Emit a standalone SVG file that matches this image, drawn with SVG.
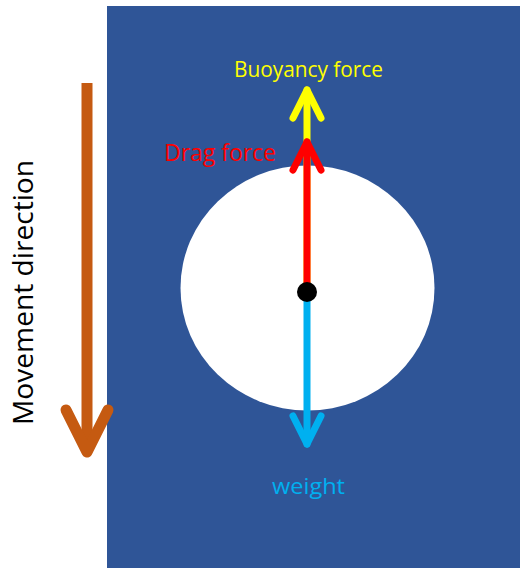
<svg xmlns="http://www.w3.org/2000/svg" width="520" height="570" viewBox="0 0 520 570">
<style>
.arr{fill:none;stroke-linecap:round;stroke-linejoin:round}
.lbl{font-family:"Open Sans","Liberation Sans",sans-serif}
</style>
<rect width="520" height="570" fill="#ffffff"/>
<g id="water"><rect x="107" y="6" width="413" height="562" fill="#2F5597"/></g>
<g id="ball"><ellipse cx="307.5" cy="288" rx="127" ry="122.5" fill="#ffffff"/></g>
<g id="connectors">
<g id="buoyancy-arrow" stroke="#FFFF00" stroke-width="7" class="arr"><path d="M307 290V90"/><path d="M293 118L307 90L321 118"/></g>
<g id="drag-arrow" stroke="#FF0000" stroke-width="7" class="arr"><path d="M307 290V142"/><path d="M293 170L307 142L321 170"/></g>
<g id="weight-arrow" stroke="#00B0F0" stroke-width="7" class="arr"><path d="M307 292V444"/><path d="M293 416L307 444L321 416"/></g>
<g id="movement-arrow" stroke="#C55A11" stroke-width="11" class="arr"><path d="M87 83V452" stroke-linecap="butt"/><path d="M66 410L87 452L108 410"/></g>
</g>
<g id="center"><circle cx="307" cy="292" r="10" fill="#000000"/></g>
<g id="labels" class="lbl">
<text x="308.5" y="77" font-size="21" fill="#FFFF00" text-anchor="middle" textLength="149" lengthAdjust="spacingAndGlyphs">Buoyancy force</text>
<text x="220" y="161" font-size="23" fill="#FF0000" text-anchor="middle" textLength="112" lengthAdjust="spacingAndGlyphs">Drag force</text>
<text x="308.5" y="494" font-size="22" fill="#00B0F0" text-anchor="middle" textLength="73" lengthAdjust="spacingAndGlyphs">weight</text>
<text transform="translate(33 292.5) rotate(-90)" font-size="28" fill="#000000" text-anchor="middle" textLength="265" lengthAdjust="spacingAndGlyphs">Movement direction</text>
</g>
</svg>
